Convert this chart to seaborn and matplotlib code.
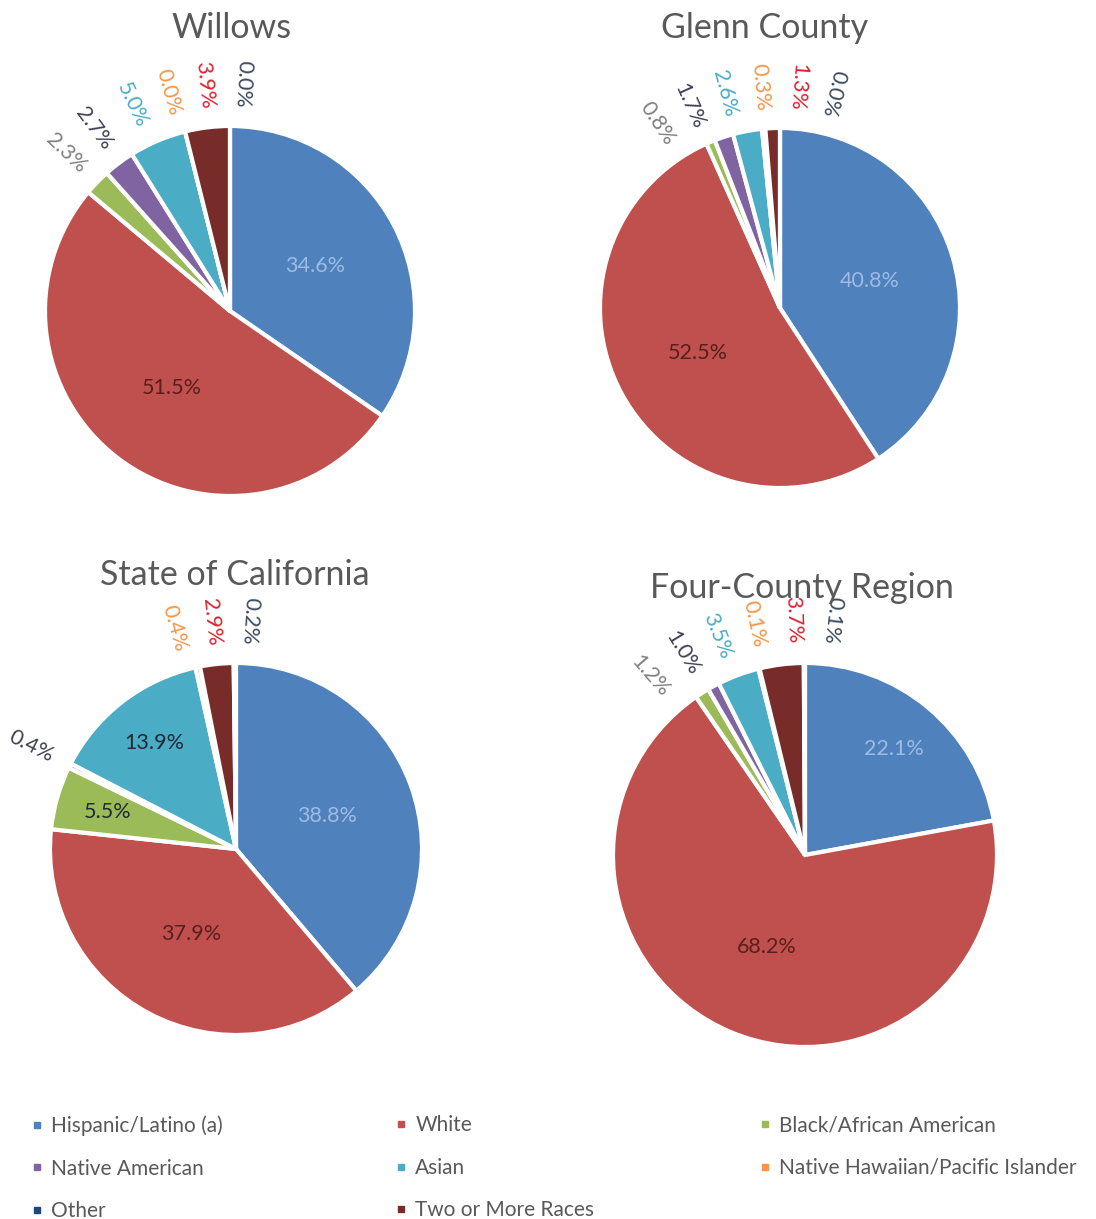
import numpy as np
import matplotlib.pyplot as plt
import seaborn as sns
from matplotlib.lines import Line2D

# ==========================================
# Data (percent of population), pie order
# ==========================================

groups = ["Hispanic/Latino (a)", "White", "Black/African American",
          "Native American", "Asian", "Native Hawaiian/Pacific Islander",
          "Two or More Races", "Other"]

willows = [34.6, 51.5, 2.3, 2.7, 5.0, 0.0, 3.9, 0.0]
glenn = [40.8, 52.5, 0.8, 1.7, 2.6, 0.3, 1.3, 0.0]
california = [38.8, 37.9, 5.5, 0.4, 13.9, 0.4, 2.9, 0.2]
four_county = [22.1, 68.2, 1.2, 1.0, 3.5, 0.1, 3.7, 0.1]

titles = ["Willows", "Glenn County", "State of California", "Four-County Region"]

legend_order = ["Hispanic/Latino (a)", "Native American", "Other",
                "White", "Asian", "Two or More Races",
                "Black/African American", "Native Hawaiian/Pacific Islander"]

# ==========================================
# Style
# ==========================================

sns.set_theme(style="white")
plt.rcParams["font.family"] = ["Lato", "DejaVu Sans"]

slice_colors = ["#4F81BD", "#C0504D", "#9BBB59", "#8064A2",
                "#4BACC6", "#F79646", "#772C2A", "#1F497D"]
outside_colors = ["#4F81BD", "#C0504D", "#808080", "#3F3F55",
                  "#4BACC6", "#F79646", "#E0202E", "#3A4A5C"]
inside_colors = ["#9DBCE3", "#5A1E1E", "#1F2A36", "#1F2A36",
                 "#1F2A36", "#1F2A36", "#1F2A36", "#1F2A36"]
text_grey = "#595959"

W, H = 1096, 1219

# pie centre / radius in pixels, title position in pixels
layout = [
    dict(cx=230, cy=311, r=185, tx=232, ty=28),
    dict(cx=780, cy=308, r=180, tx=765, ty=28),
    dict(cx=236, cy=849, r=186, tx=235, ty=575),
    dict(cx=805, cy=855, r=192, tx=802, ty=588),
]


def spread(mids, gap):
    # push crowded outside labels apart, keeping each cluster centred
    clusters = [[i] for i in range(len(mids))]
    while True:
        starts = [np.mean([mids[i] for i in c]) - gap * (len(c) - 1) / 2
                  for c in clusters]
        merged = False
        for k in range(len(clusters) - 1):
            end_k = starts[k] + gap * (len(clusters[k]) - 1)
            if starts[k + 1] - end_k < gap:
                clusters[k] = clusters[k] + clusters[k + 1]
                del clusters[k + 1]
                merged = True
                break
        if not merged:
            break
    out = []
    for c, s in zip(clusters, starts):
        out += [s + gap * j for j in range(len(c))]
    return out


fig = plt.figure(figsize=(W / 100, H / 100), dpi=100)
ax = fig.add_axes([0, 0, 1, 1])

for values, title, lay in zip([willows, glenn, california, four_county],
                              titles, layout):
    cx, cy, r = lay["cx"], H - lay["cy"], lay["r"]
    ax.pie(values, colors=slice_colors, startangle=90, counterclock=False,
           center=(cx, cy), radius=r,
           wedgeprops=dict(edgecolor="white", linewidth=3))

    vals = np.array(values)
    ends = np.cumsum(vals) / vals.sum() * 360
    mids = ends - vals / vals.sum() * 180

    inside = [i for i in range(len(vals)) if vals[i] > 5.0]
    outside = [i for i in range(len(vals)) if vals[i] <= 5.0]

    for i in inside:
        th = np.radians(mids[i])
        f = 0.52 if vals[i] > 30 else 0.72
        ax.text(cx + f * r * np.sin(th), cy + f * r * np.cos(th),
                f"{vals[i]:.1f}%", ha="center", va="center",
                fontsize=15.5, color=inside_colors[i])

    angles = spread([mids[i] for i in outside], 9.5)
    for i, a in zip(outside, angles):
        th = np.radians(a)
        rot = np.degrees(np.arctan2(-np.cos(th), -np.sin(th)))
        ax.text(cx + 1.23 * r * np.sin(th), cy + 1.23 * r * np.cos(th),
                f"{vals[i]:.1f}%", ha="center", va="center",
                rotation=rot, rotation_mode="anchor",
                fontsize=15.5, color=outside_colors[i])

    ax.text(lay["tx"], H - lay["ty"], title, ha="center", va="center",
            fontsize=24.5, color=text_grey)

ax.set_xlim(0, W)
ax.set_ylim(0, H)
ax.set_aspect("auto")
ax.axis("off")

# ==========================================
# Legend (three columns, row-wise reading order)
# ==========================================

col_x = [20, 384, 748]
for k, x in enumerate(col_x):
    names = legend_order[3 * k:3 * k + 3]
    handles = [Line2D([], [], marker="s", linestyle="", markersize=5,
                      color=slice_colors[groups.index(n)]) for n in names]
    fig.legend(handles, names, loc="upper left",
               bbox_to_anchor=(x / W, 1 - 1105 / H), frameon=False,
               borderpad=0, handlelength=0.6, handletextpad=0.4,
               labelspacing=1.08, fontsize=15, labelcolor=text_grey)

plt.savefig("out.png", dpi=100)
